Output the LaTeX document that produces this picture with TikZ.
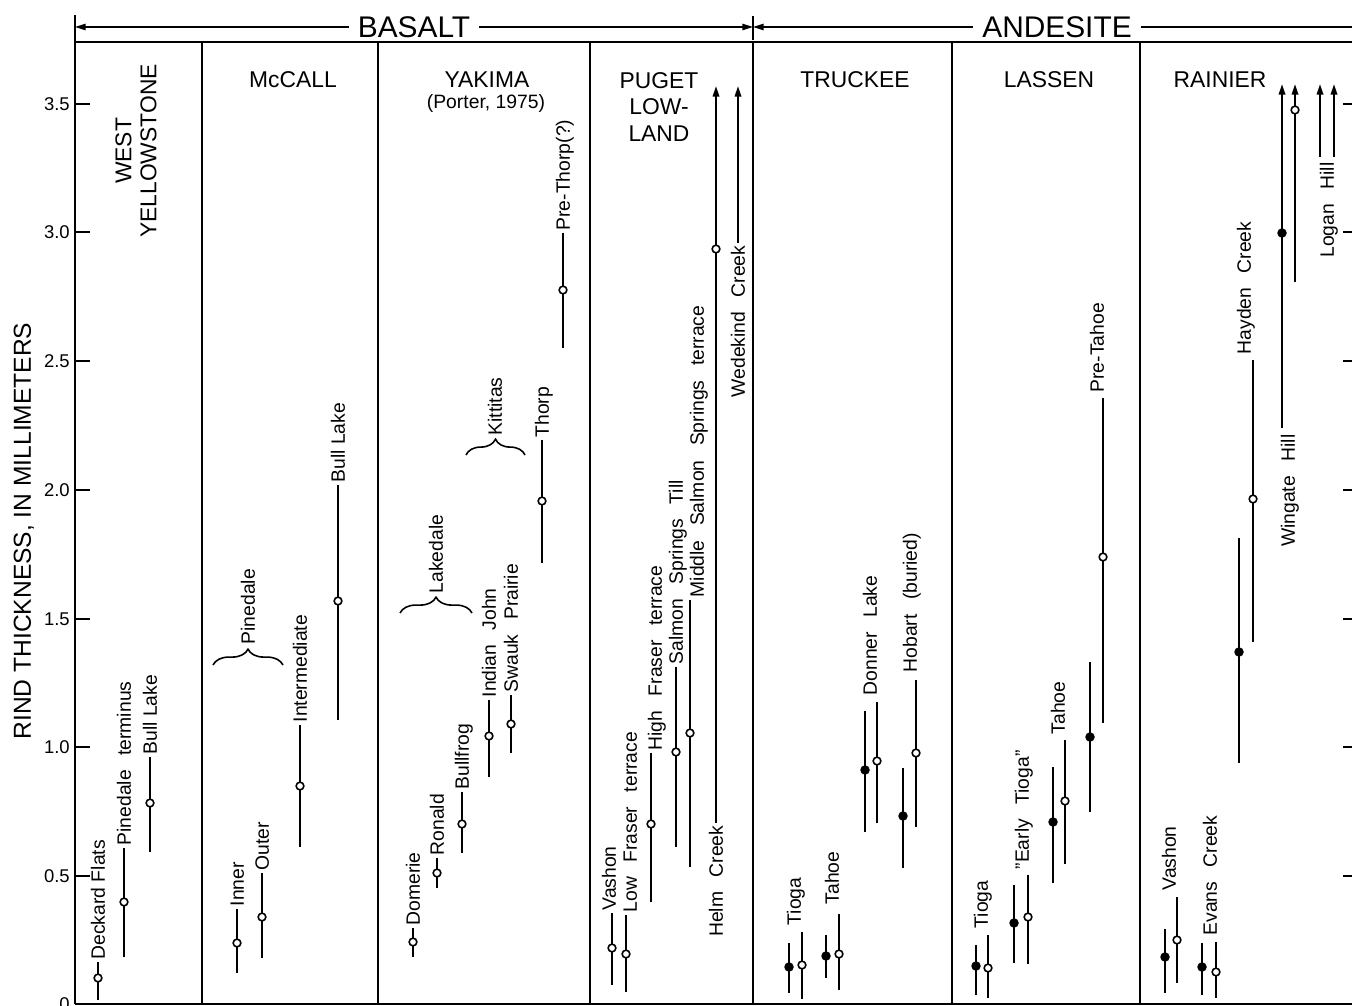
\documentclass[tikz,border=0pt]{standalone}
\usepackage{fontspec}
\setmainfont{Liberation Sans}
\usetikzlibrary{arrows.meta,decorations.pathreplacing}
\newcommand{\wsp}{\hspace{0.75em}}
% range bar: name, x, top, bottom, marker y, marker type (o/f/n)
\newcommand{\rbar}[6]{%
  \coordinate (#1t) at (#2,#3);
  \coordinate (#1b) at (#2,#4);
  \draw[rng] (#1t) -- (#1b);
  \node[mk#6] (#1m) at (#2,#5) {};}
% range bar running off the top (arrow)
\newcommand{\abar}[6]{%
  \coordinate (#1t) at (#2,#3);
  \coordinate (#1b) at (#2,#4);
  \draw[up] (#1b) -- (#1t);
  \node[mk#6] (#1m) at (#2,#5) {};}
\begin{document}
\begin{tikzpicture}[x=0.02cm,y=-0.02cm,
  frame/.style={line width=0.85pt},
  divider/.style={line width=0.7pt},
  rng/.style={line width=1.2pt},
  tip/.style={-{Triangle[length=6pt,width=3.6pt]}},
  up/.style={rng,tip},
  mko/.style={circle,draw,fill=white,line width=0.9pt,inner sep=0pt,minimum size=4.4pt},
  mkf/.style={circle,fill=black,inner sep=0pt,minimum size=5.4pt},
  mkn/.style={inner sep=0pt,minimum size=0pt},
  lbl/.style={font=\fontsize{11}{13}\selectfont,rotate=90,inner sep=0pt,outer sep=1.5pt,text height=7.9pt,text depth=0pt},
  lblw/.style={lbl,anchor=west},
  lble/.style={lbl,anchor=east},
  ptitle/.style={font=\fontsize{13}{15}\selectfont,align=center,inner sep=0pt},
  head/.style={font=\fontsize{17}{19}\selectfont,inner xsep=5pt,inner ysep=0pt},
  ticklab/.style={font=\fontsize{10.5}{12}\selectfont,anchor=east,inner sep=0pt,text height=7.5pt,text depth=0pt},
  brc/.style={line width=0.9pt,decorate,decoration={brace,amplitude=9pt}}
]
\fill[white] (0,0) rectangle (1352,1006);
\useasboundingbox (0,0) rectangle (1352,1006);

% ---------- header ----------
\node[head] (BAS) at (414,27) {BASALT};
\node[head] (AND) at (1057,27) {ANDESITE};
\draw[frame,tip] (BAS.west) -- (75,27);
\draw[frame,tip] (BAS.east) -- (753,27);
\draw[frame,tip] (AND.west) -- (753,27);
\draw[frame] (AND.east) -- (1352,27);
\draw[frame] (753,16) -- (753,40);

% ---------- frame ----------
\draw[frame] (75,15) -- (75,1004);
\draw[frame] (75,42) -- (1352,42);
\draw[frame] (75,1004) -- (1352,1004);
\foreach \xx in {202,378,590,753,952,1140}
  \draw[divider] (\xx,42) -- (\xx,1004);

% ---------- axis ----------
\foreach \yy/\lab [count=\i] in {104/3.5,232/3.0,361/2.5,490/2.0,619/1.5,747/1.0,876/0.5,1004/0}{
  \draw[frame] (75,\yy) -- (90,\yy);
  \node[ticklab] (tl\i) at (70,\yy) {\lab};
}
\foreach \yy in {104,232,361,490,619,747,876}
  \draw[frame] (1343,\yy) -- (1352,\yy);
\node[rotate=90,font=\fontsize{14}{16}\selectfont,inner sep=0pt,text height=10pt,text depth=0pt] (ytitle) at (22,531) {RIND THICKNESS, IN MILLIMETERS};

% ---------- panel titles ----------
\node[ptitle,rotate=90,font=\fontsize{13}{14.2}\selectfont] (tWY) at (136,151) {WEST\\YELLOWSTONE};
\node[ptitle] (tMC) at (293,80) {McCALL};
\node[ptitle] (tYA) at (487,80) {YAKIMA};
\node[ptitle,font=\fontsize{11}{13}\selectfont] (tYAb) at (486,104) {(Porter, 1975)};
\node[ptitle,font=\fontsize{13}{15}\selectfont] (tPU) at (659,107) {PUGET\\LOW-\\LAND};
\node[ptitle] (tTR) at (855,80) {TRUCKEE};
\node[ptitle] (tLA) at (1049,80) {LASSEN};
\node[ptitle] (tRA) at (1220,80) {RAINIER};

% ---------- West Yellowstone ----------
\rbar{wa}{98}{962}{1000}{978}{o}
\node[lblw] (lwa) at (wat) {Deckard Flats};
\rbar{wb}{124}{848}{957}{902}{o}
\node[lblw] (lwb) at (wbt) {Pinedale\wsp terminus};
\rbar{wc}{150}{757}{852}{803}{o}
\node[lblw] (lwc) at (wct) {Bull Lake};

% ---------- McCall ----------
\rbar{ma}{237}{909}{973}{943}{o}
\node[lblw] (lma) at (mat) {Inner};
\rbar{mb}{262}{873}{958}{917}{o}
\node[lblw] (lmb) at (mbt) {Outer};
\rbar{mc}{300}{725}{847}{786}{o}
\node[lblw] (lmc) at (mct) {Intermediate};
\rbar{md}{338}{485}{720}{601}{o}
\node[lblw] (lmd) at (mdt) {Bull Lake};
\coordinate (bpa) at (213,665);
\coordinate (bpb) at (283,665);
\draw[brc] (bpa) -- (bpb);
\node[lblw] (lbp) at (248,647) {Pinedale};

% ---------- Yakima ----------
\rbar{ya}{413}{928}{957}{942}{o}
\node[lblw] (lya) at (yat) {Domerie};
\rbar{yb}{437}{858}{888}{873}{o}
\node[lblw] (lyb) at (ybt) {Ronald};
\rbar{yc}{462}{792}{853}{824}{o}
\node[lblw] (lyc) at (yct) {Bullfrog};
\rbar{yd}{489}{700}{777}{736}{o}
\node[lblw] (lyd) at (ydt) {Indian\wsp John};
\rbar{ye}{511}{695}{753}{724}{o}
\node[lblw] (lye) at (yet) {Swauk\wsp Prairie};
\rbar{yf}{542}{440}{563}{501}{o}
\node[lblw] (lyf) at (yft) {Thorp};
\rbar{yg}{563}{233}{348}{290}{o}
\node[lblw] (lyg) at (ygt) {Pre-Thorp(?)};
\coordinate (bla) at (400,613);
\coordinate (blb) at (472,613);
\draw[brc] (bla) -- (blb);
\node[lblw] (lbl) at (436,596) {Lakedale};
\coordinate (bka) at (466,455);
\coordinate (bkb) at (525,455);
\draw[brc] (bka) -- (bkb);
\node[lblw] (lbk) at (495,438) {Kittitas};

% ---------- Puget Lowland ----------
\rbar{pa}{612}{913}{985}{948}{o}
\node[lblw] (lpa) at (609,913) {Vashon};
\rbar{pb}{626}{915}{992}{954}{o}
\node[lblw] (lpb) at (630,915) {Low\wsp Fraser\wsp terrace};
\rbar{pc}{651}{753}{902}{824}{o}
\node[lblw] (lpc) at (655,753) {High\wsp Fraser\wsp terrace};
\rbar{pd}{676}{667}{847}{752}{o}
\node[lblw] (lpd) at (pdt) {Salmon\wsp Springs\wsp Till};
\rbar{pe}{690}{600}{867}{733}{o}
\node[lblw] (lpe) at (697,600) {Middle\wsp Salmon\wsp Springs\wsp terrace};
\abar{pf}{716}{86}{823}{249}{o}
\node[lble] (lpf) at (pfb) {Helm\wsp Creek};
\abar{pg}{738}{86}{243}{243}{n}
\node[lble] (lpg) at (pgb) {Wedekind\wsp Creek};

% ---------- Truckee ----------
\rbar{ta}{789}{943}{993}{967}{f}
\rbar{tb}{802}{932}{999}{965}{o}
\node[lblw] (lta) at (794,928) {Tioga};
\rbar{tc}{826}{935}{978}{956}{f}
\rbar{td}{839}{914}{990}{954}{o}
\node[lblw] (ltc) at (832,907) {Tahoe};
\rbar{te}{865}{711}{832}{770}{f}
\rbar{tf}{877}{702}{823}{761}{o}
\node[lblw] (lte) at (870,698) {Donner\wsp Lake};
\rbar{tg}{903}{768}{868}{816}{f}
\rbar{th}{916}{680}{827}{753}{o}
\node[lblw] (ltg) at (910,675) {Hobart\wsp (buried)};

% ---------- Lassen ----------
\rbar{la}{976}{945}{995}{966}{f}
\rbar{lb}{988}{935}{998}{968}{o}
\node[lblw] (lla) at (981,931) {Tioga};
\rbar{lc}{1014}{885}{963}{923}{f}
\rbar{ld}{1028}{875}{964}{917}{o}
\node[lblw] (llc) at (1022,872) {''Early\wsp Tioga''};
\rbar{le}{1053}{767}{883}{822}{f}
\rbar{lf}{1065}{740}{864}{801}{o}
\node[lblw] (lle) at (1058,737) {Tahoe};
\rbar{lg}{1090}{662}{812}{737}{f}
\rbar{lh}{1103}{398}{723}{557}{o}
\node[lblw] (llg) at (1097,395) {Pre-Tahoe};

% ---------- Rainier ----------
\rbar{ra}{1165}{929}{993}{957}{f}
\rbar{rb}{1177}{897}{983}{940}{o}
\node[lblw] (lra) at (1169,893) {Vashon};
\rbar{rc}{1202}{943}{995}{967}{f}
\rbar{rd}{1216}{942}{998}{972}{o}
\node[lblw] (lrc) at (1210,938) {Evans\wsp Creek};
\rbar{re}{1239}{538}{763}{652}{f}
\rbar{rf}{1253}{360}{642}{499}{o}
\node[lblw] (lre) at (1244,357) {Hayden\wsp Creek};
\abar{rg}{1282}{84}{428}{233}{f}
\abar{rh}{1295}{84}{282}{110}{o}
\node[lble] (lrg) at (1288,432) {Wingate\wsp Hill};
\abar{ri}{1320}{84}{157}{157}{n}
\abar{rj}{1334}{84}{157}{157}{n}
\node[lble] (lri) at (1327,160) {Logan\wsp Hill};
\end{tikzpicture}
\end{document}
